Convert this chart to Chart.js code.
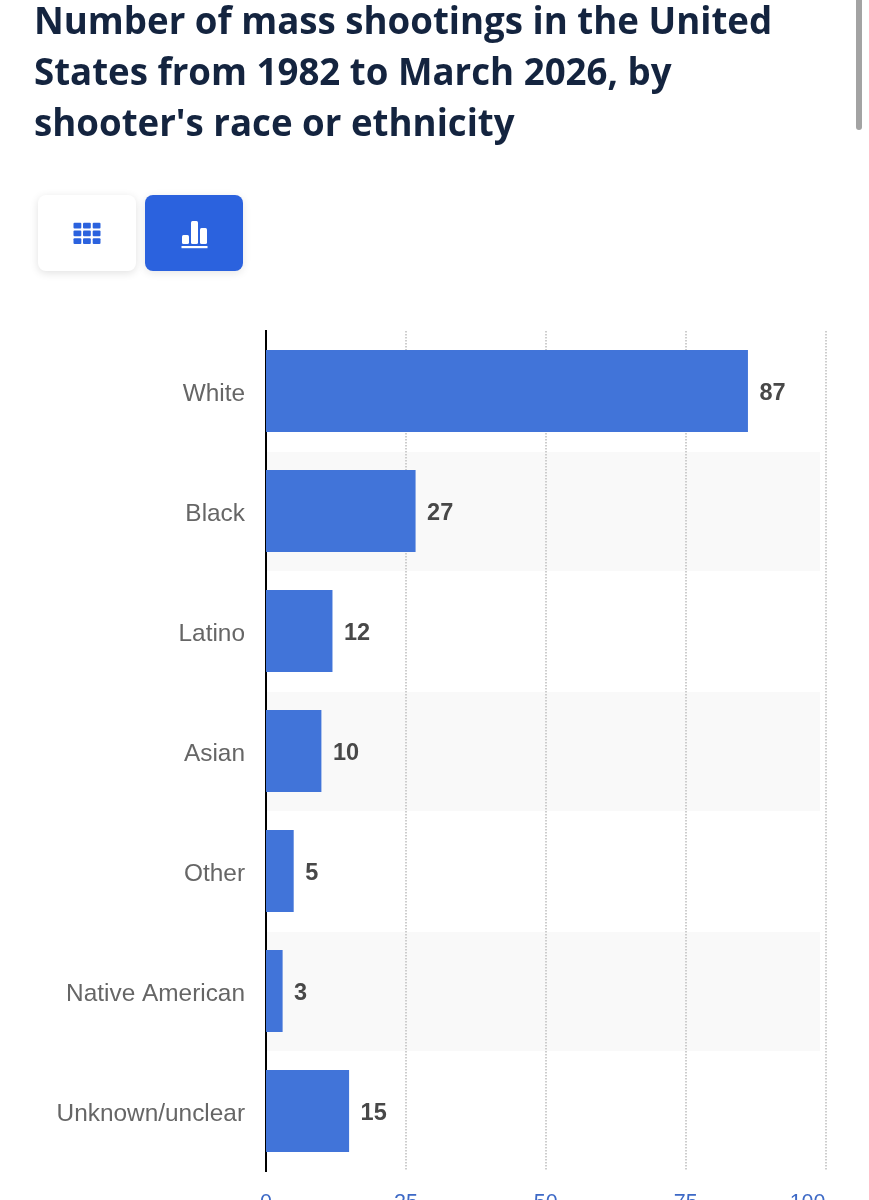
<!DOCTYPE html>
<html>
<head>
<meta charset="utf-8">
<script src="https://cdn.jsdelivr.net/npm/chart.js@4"></script>
<style>
html,body{margin:0;padding:0;width:869px;height:1200px;overflow:hidden;background:#fff}
#wrap{position:absolute;left:0;top:0;width:869px;height:1240px}
h1{position:absolute;left:34px;top:-5px;margin:0;font:700 36.65px/51px "Open Sans",sans-serif;color:#14243f;white-space:nowrap;z-index:2}
.btn{position:absolute;top:195px;height:76px;border-radius:8px;box-sizing:border-box}
#b1{left:38px;width:98px;background:#fff;box-shadow:0 2px 8px rgba(0,0,0,.12)}
#b2{left:145px;width:98px;background:#2b62de;box-shadow:0 2px 8px rgba(0,0,0,.10)}
#sb{position:absolute;left:856px;top:-10px;width:6px;height:140px;border-radius:3px;background:#a3a3a3}
svg{position:absolute;left:0;top:0}
</style>
</head>
<body>
<h1>Number of mass shootings in the United<br>States from 1982 to March 2026, by<br>shooter's race or ethnicity</h1>
<div class="btn" id="b1"><svg width="98" height="76" fill="#2b62de">
<rect x="35.5" y="27.7" width="7.8" height="5.8" rx="1"/><rect x="45" y="27.7" width="7.8" height="5.8" rx="1"/><rect x="54.7" y="27.7" width="7.8" height="5.8" rx="1"/>
<rect x="35.5" y="35.5" width="7.8" height="5.8" rx="1"/><rect x="45" y="35.5" width="7.8" height="5.8" rx="1"/><rect x="54.7" y="35.5" width="7.8" height="5.8" rx="1"/>
<rect x="35.5" y="43.3" width="7.8" height="5.8" rx="1"/><rect x="45" y="43.3" width="7.8" height="5.8" rx="1"/><rect x="54.7" y="43.3" width="7.8" height="5.8" rx="1"/>
</svg></div>
<div class="btn" id="b2"><svg width="98" height="76" fill="#fff">
<rect x="37" y="40" width="7" height="9" rx="1.5"/><rect x="46" y="26" width="7" height="23" rx="1.5"/><rect x="55" y="33" width="7" height="16" rx="1.5"/>
<rect x="36.5" y="51" width="26" height="2.2"/>
</svg></div>
<div id="sb"></div>
<div id="wrap"><canvas id="c" width="869" height="1240"></canvas></div>
<script>
const categories = ["White","Black","Latino","Asian","Other","Native American","Unknown/unclear"];
const shootings = [87,27,12,10,5,3,15];
const axisTicks = [0,25,50,75,100];

const rowBands = {
  id:'rowBands',
  beforeDraw(chart){
    const {ctx,scales:{y,x,xTicks}} = chart;
    const h = y.height/categories.length;
    ctx.save();
    ctx.fillStyle = '#f9f9f9';
    categories.forEach((c,i)=>{
      if(i%2===1){
        const cy = y.getPixelForValue(i);
        ctx.fillRect(x.left, cy-h/2+1, x.getPixelForValue(100)-x.left, h-1);
      }
    });
    ctx.restore();
    // the last axis label ends at its grid line instead of centring on it
    const items = xTicks.getLabelItems();
    if(items.length) items[items.length-1].options.textAlign = 'right';
  }
};
const valueLabels = {
  id:'valueLabels',
  afterDatasetsDraw(chart){
    const {ctx} = chart;
    const meta = chart.getDatasetMeta(0);
    ctx.save();
    ctx.font = 'bold 23.5px "Liberation Sans", Arial, sans-serif';
    ctx.fillStyle = '#484848';
    ctx.textAlign = 'left';
    ctx.textBaseline = 'middle';
    meta.data.forEach((bar,i)=>{
      ctx.fillText(String(shootings[i]), bar.x+11.5, bar.y+2.5);
    });
    ctx.restore();
  }
};

new Chart(document.getElementById('c'),{
  type:'bar',
  data:{labels:categories,datasets:[{
    data:shootings,
    backgroundColor:'#4174d9',
    barPercentage:0.683,
    categoryPercentage:1,
    xAxisID:'x',
    yAxisID:'y'
  }]},
  plugins:[rowBands,valueLabels],
  options:{
    indexAxis:'y',
    responsive:false,
    animation:false,
    layout:{padding:{top:331,right:43.5,left:0,bottom:0}},
    plugins:{legend:{display:false},tooltip:{enabled:false},title:{display:false}},
    scales:{
      x:{type:'linear',display:false,min:0,max:101},
      xTicks:{
        type:'linear',axis:'x',position:'bottom',min:0,max:100,
        afterBuildTicks(s){s.ticks = axisTicks.map(v=>({value:v}));},
        afterFit(s){s.height = 69;},
        grid:{color:'#cdcdcd',lineWidth:2,drawTicks:false},
        border:{display:false,dash:[1.5,1.5]},
        ticks:{padding:19.5,maxRotation:0,autoSkip:false,color:'#3d69c6',
          font:{family:'"Liberation Sans", Arial, sans-serif',size:21.5}}
      },
      y:{
        type:'category',position:'left',
        afterFit(s){s.width = 266;},
        grid:{display:false,drawTicks:false},
        border:{display:true,color:'#000',width:2},
        ticks:{padding:21,labelOffset:3.5,color:'#666',autoSkip:false,
          font:{family:'"Liberation Sans", Arial, sans-serif',size:24.4}}
      }
    }
  }
});
</script>
</body>
</html>
